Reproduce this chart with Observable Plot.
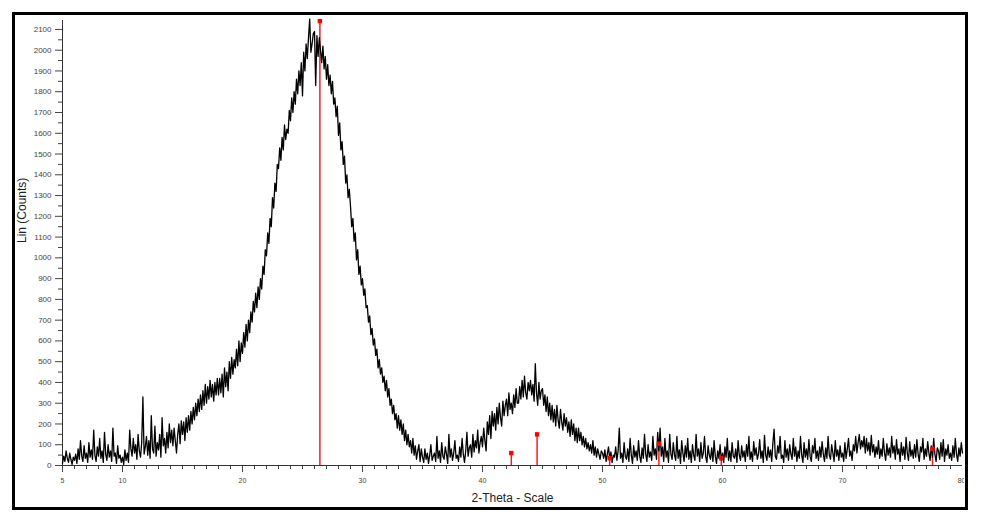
<!DOCTYPE html>
<html><head><meta charset="utf-8">
<script src="https://cdn.jsdelivr.net/npm/d3@7"></script>
<script src="https://cdn.jsdelivr.net/npm/@observablehq/plot@0.6"></script>
<style>
html,body{margin:0;padding:0;background:#fff;}
#wrap{position:relative;width:982px;height:522px;}
#chart{position:absolute;left:0;top:0;}
#frame{position:absolute;left:12px;top:12px;width:956px;height:498px;border:3px solid #000;box-sizing:border-box;pointer-events:none;}
</style></head><body>
<div id="wrap"><div id="chart"></div><div id="frame"></div></div>
<script>
// 2-Theta sampling of the scan
const thetaStart = 5;
const thetaStep = 0.1;
// Lin (Counts), one row per degree (5.0 ... 80.0)
const counts = [
 10,45,20,70,35,15,60,30,5,40,
 25,55,10,80,30,120,45,20,95,35,
 60,15,110,40,75,30,170,50,20,90,
 45,130,35,70,15,160,55,25,100,40,
 70,20,180,45,60,10,95,35,50,15,
 40,5,75,25,60,15,170,80,45,130,
 60,100,30,150,70,40,110,330,55,90,
 140,50,120,35,240,80,60,190,45,110,
 75,150,40,230,95,130,60,160,85,200,
 110,170,95,180,120,60,150,200,105,215,
 150,210,120,230,160,240,170,260,200,280,
 220,300,240,320,260,340,270,360,290,390,
 300,380,320,410,330,390,310,400,340,420,
 340,420,350,440,330,470,380,450,360,500,
 420,520,440,510,470,560,480,600,500,590,
 540,640,570,680,600,700,640,740,690,790,
 740,830,760,860,800,900,850,960,920,1040,
 1010,1120,1070,1190,1150,1290,1240,1360,1320,1450,
 1430,1530,1470,1580,1520,1640,1570,1620,1600,1710,
 1660,1770,1700,1800,1740,1860,1790,1900,1830,1940,
 1780,1990,1900,2030,1960,2060,2150,1990,2030,2080,
 2090,1830,2070,1970,2060,2000,1940,2020,1910,1970,
 1860,1930,1830,1880,1790,1850,1740,1770,1680,1730,
 1590,1650,1520,1560,1450,1490,1360,1400,1290,1330,
 1250,1150,1190,1080,1120,990,1040,920,960,870,
 900,820,850,760,770,690,720,630,660,580,
 610,530,560,470,510,440,470,400,430,360,
 410,330,370,290,320,250,290,220,250,180,
 240,170,220,150,200,120,170,100,150,90,
 120,60,130,50,95,30,70,100,20,80,
 40,15,80,30,60,10,50,100,25,45,
 60,20,140,35,70,15,110,45,30,90,
 55,10,150,40,80,25,60,120,35,50,
 20,90,40,130,55,15,70,160,45,85,
 100,40,150,65,120,85,170,60,110,140,
 90,180,120,70,210,150,240,130,260,190,
 250,170,280,200,300,230,190,310,240,290,
 320,240,350,270,300,250,340,280,370,300,
 300,380,320,410,330,430,350,320,400,360,
 410,340,390,310,490,350,290,400,320,360,
 370,290,340,260,330,240,300,220,290,210,
 270,190,290,220,180,270,210,170,250,190,
 230,160,210,140,220,150,200,120,180,110,
 180,120,160,100,140,90,130,80,110,70,
 100,60,120,50,90,40,80,55,30,70,
 60,35,75,20,55,90,30,65,15,50,
 40,90,25,70,180,35,60,15,110,45,
 30,80,20,130,50,10,95,40,70,25,
 120,45,15,85,35,150,55,20,100,40,
 65,25,140,50,80,30,160,70,180,45,
 90,20,130,40,70,15,150,55,30,110,
 50,25,140,35,75,10,120,60,20,95,
 40,130,30,70,15,100,50,25,150,45,
 80,20,110,35,60,140,40,15,95,50,
 30,85,20,120,45,10,70,35,100,25,
 60,15,90,40,130,25,70,20,110,45,
 35,80,15,120,50,25,95,40,70,20,
 100,45,140,30,65,20,115,50,85,30,
 55,125,35,70,15,145,50,25,90,40,
 75,20,110,175,45,30,95,60,140,35,
 50,15,120,40,80,25,100,55,30,130,
 45,90,20,70,35,140,50,15,110,40,
 80,30,125,45,20,95,60,130,35,70,
 25,90,40,115,55,20,85,35,140,50,
 30,100,60,20,120,45,75,25,95,40,
 60,20,110,35,80,130,45,70,25,100,
 70,140,60,110,150,80,120,90,140,60,
 130,70,110,50,145,65,100,40,90,55,
 120,35,80,45,130,60,25,105,50,85,
 40,140,60,95,30,125,55,80,20,110,
 50,90,30,135,60,25,115,45,75,35,
 100,40,125,55,20,90,65,130,30,80,
 45,115,60,25,95,40,130,55,20,85,
 70,30,110,45,125,20,80,50,100,35,
 60,25,95,40,130,55,20,85,45,110,
 60
];
// reference pattern (red sticks)
const refTheta = [26.45, 42.4, 44.55, 50.6, 54.7, 59.9, 77.5];
const refHeight = [2140, 60, 150, 35, 105, 35, 80];
// ticks
const xMajor = [5, 10, 20, 30, 40, 50, 60, 70];
const xLast = [80];
const xMinor = d3.range(6, 80, 1).filter(v => v % 10 !== 0);
const yMajor = d3.range(0, 2101, 100);
const yMinor = d3.range(50, 2100, 100);
const xTitle = "2-Theta - Scale";
const yTitle = "Lin (Counts)";

const data = counts.map((c, i) => ({theta: thetaStart + i * thetaStep, count: c}));
const refs = refTheta.map((t, i) => ({theta: t, height: refHeight[i]}));

const chart = Plot.plot({
  width: 964, height: 510,
  marginLeft: 62, marginRight: 2, marginTop: 20, marginBottom: 45,
  style: {fontFamily: "'Liberation Sans', Arial, sans-serif", background: "white"},
  x: {domain: [5, 80]},
  y: {domain: [0, 2143]},
  marks: [
    Plot.axisY(yMajor, {tickSize: 7, tickPadding: 4, fontSize: 8, tickFormat: d => String(d), color: "#444", label: null}),
    Plot.axisY(yMinor, {tickSize: 4, tickFormat: () => "", color: "#444", label: null}),
    Plot.axisX(xMajor, {tickSize: 7, tickPadding: 6, fontSize: 7, tickFormat: d => String(d), color: "#444", label: null}),
    Plot.axisX(xLast, {tickSize: 7, tickPadding: 6, fontSize: 7, textAnchor: "end", dx: 3, tickFormat: d => String(d), color: "#444", label: null}),
    Plot.axisX(xMinor, {tickSize: 4, tickFormat: () => "", color: "#444", label: null}),
    Plot.ruleX([5], {stroke: "#333"}),
    Plot.ruleY([0], {stroke: "#333"}),
    Plot.ruleX(refs, {x: "theta", y1: 0, y2: "height", stroke: "#ff1a1a", strokeWidth: 1.5}),
    Plot.line(data, {x: "theta", y: "count", stroke: "black", strokeWidth: 1.3}),
    Plot.dot(refs, {x: "theta", y: "height", symbol: "square", r: 2.5, fill: "red"}),
    Plot.text([yTitle], {frameAnchor: "left", dx: -40, rotate: -90, fontSize: 12, fill: "#222"}),
    Plot.text([xTitle], {frameAnchor: "bottom", dy: 36, fontSize: 12, fill: "#222"})
  ]
});
document.getElementById("chart").appendChild(chart);
</script></body></html>
